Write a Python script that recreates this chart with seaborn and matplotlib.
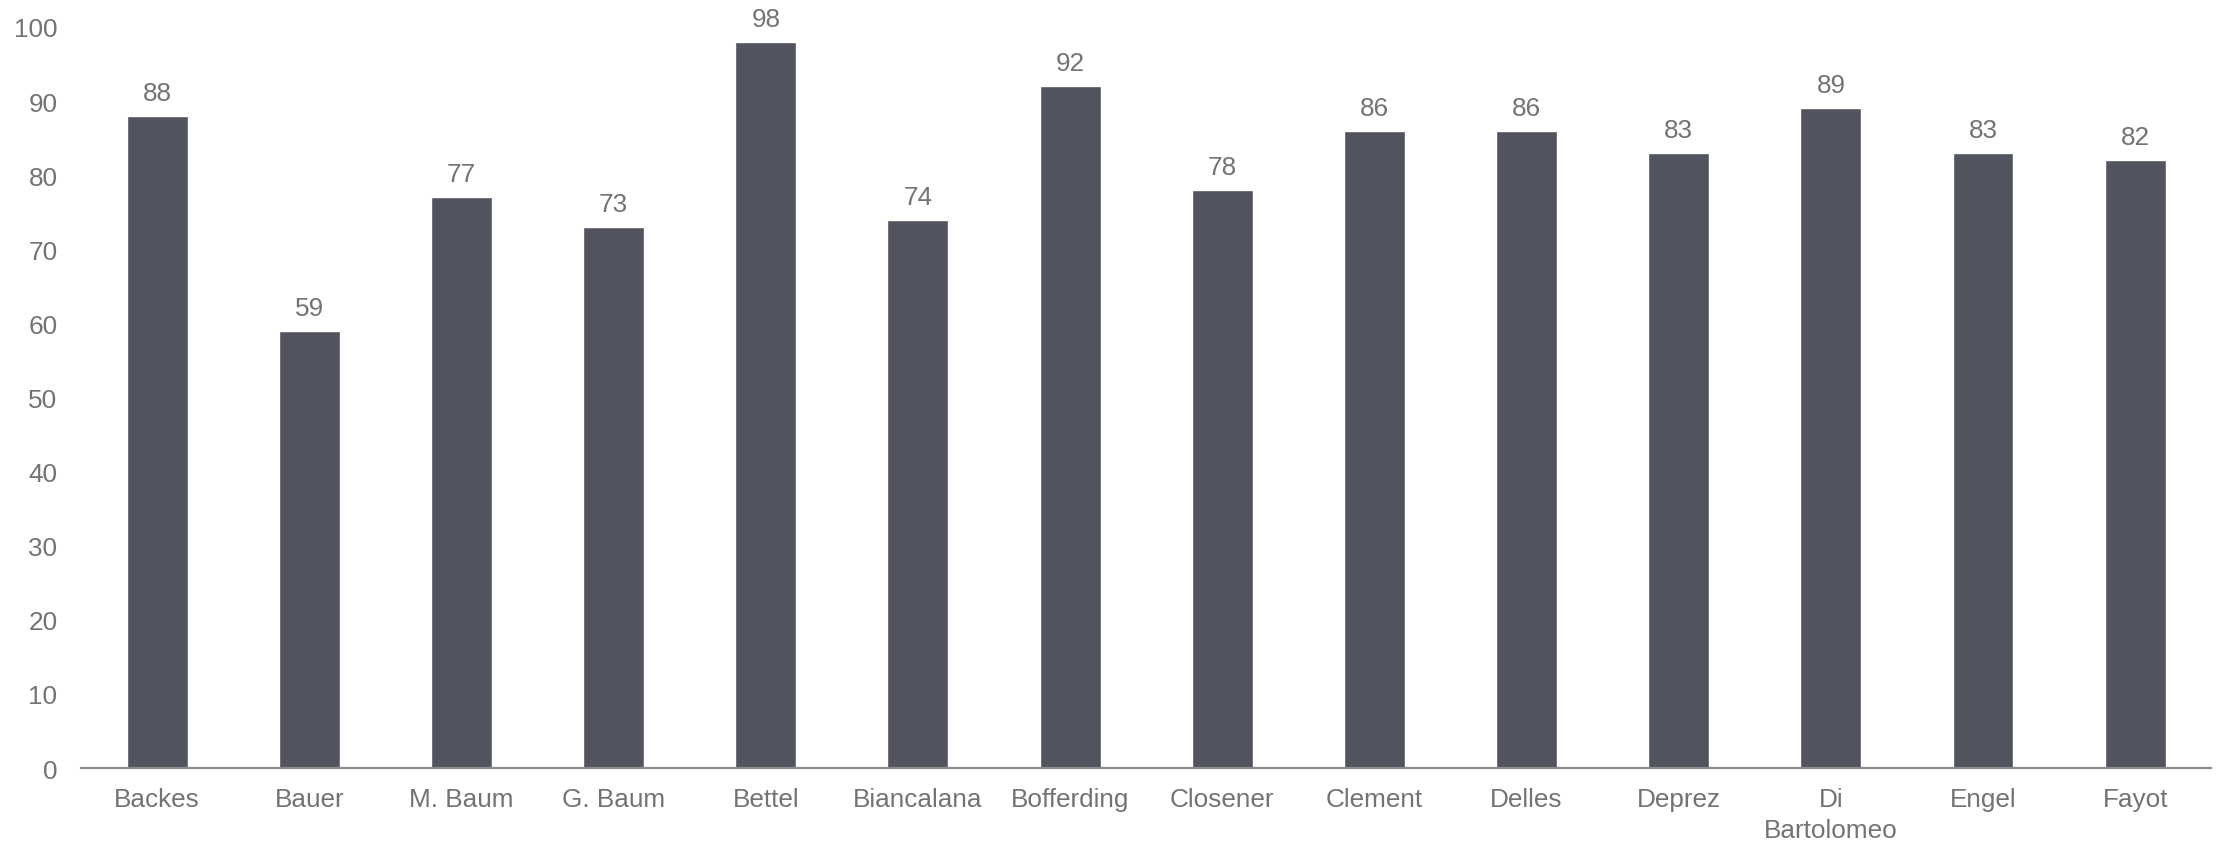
import matplotlib
matplotlib.use("Agg")
import matplotlib.pyplot as plt
import seaborn as sns
import pandas as pd

names = ["Backes", "Bauer", "M. Baum", "G. Baum", "Bettel", "Biancalana", "Bofferding",
         "Closener", "Clement", "Delles", "Deprez", "Di\nBartolomeo", "Engel", "Fayot"]
values = [88, 59, 77, 73, 98, 74, 92, 78, 86, 86, 83, 89, 83, 82]
yticks = [0, 10, 20, 30, 40, 50, 60, 70, 80, 90, 100]

sns.set_theme(style="white")
plt.rcParams['font.family'] = ['Liberation Sans', 'DejaVu Sans']

df = pd.DataFrame({"name": names, "value": values})
fig = plt.figure(figsize=(22.26, 8.45), dpi=100)
ax = fig.add_axes([0.0364, 0.0899, 0.957, 0.877])
sns.barplot(data=df, x="name", y="value", color="#52545F", saturation=1, width=0.4, ax=ax)
txt = "#737373"
fs = 18.8
ax.set_ylim(0, 100)
ax.set_xlim(-0.5, len(names) - 0.5)
ax.set_yticks(yticks)
ax.set_xlabel("")
ax.set_ylabel("")
for s in ["top", "right", "left"]:
    ax.spines[s].set_visible(False)
ax.spines["bottom"].set_color("#8C8C8C")
ax.spines["bottom"].set_linewidth(1.6)
ax.tick_params(axis="x", length=0, pad=14, labelsize=fs, labelcolor=txt)
ax.tick_params(axis="y", length=0, pad=17, labelsize=fs, labelcolor=txt)
for lab in ax.get_xticklabels():
    lab.set_linespacing(1.35)
for c in ax.containers:
    ax.bar_label(c, fmt="%d", padding=8, fontsize=fs, color=txt)
fig.savefig("out.png", dpi=100)
